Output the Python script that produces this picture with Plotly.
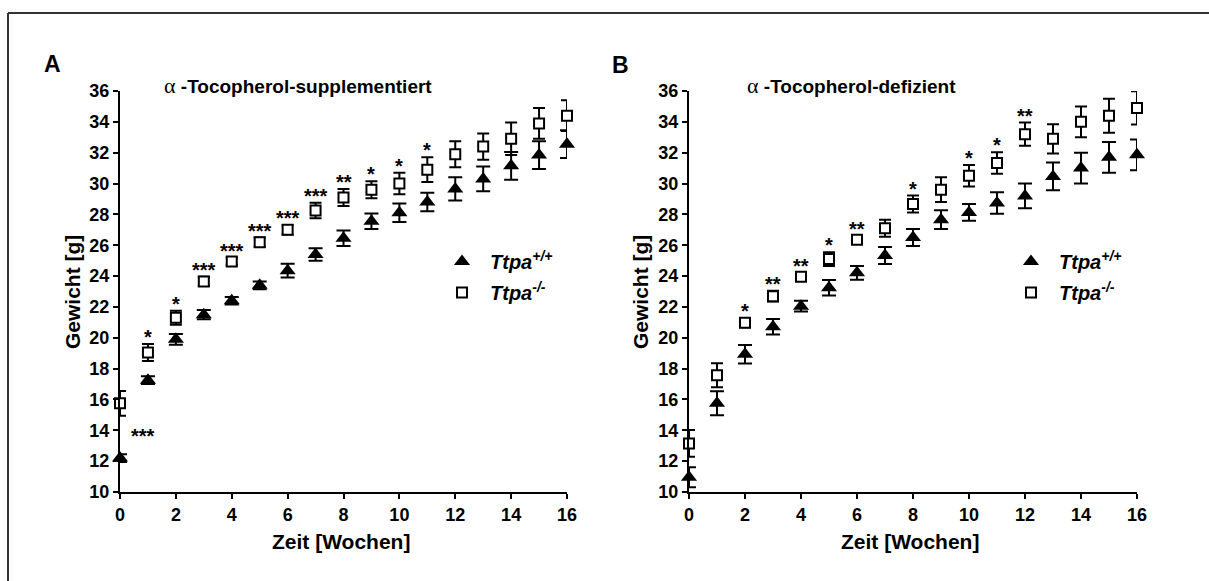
import plotly.graph_objects as go

W, H = 1209, 581
FONT = "Liberation Sans, Arial, sans-serif"

weeks = list(range(17))
x_ticks = list(range(0, 17, 2))
y_ticks = list(range(10, 37, 2))

# α-Tocopherol-supplemented diet: body weight [g], mean ± SEM
sup_wt_mean = [12.2, 17.25, 19.9, 21.5, 22.4, 23.4, 24.35, 25.4, 26.45, 27.55,
               28.1, 28.8, 29.65, 30.3, 31.15, 31.85, 32.55]
sup_wt_sem = [0.25, 0.25, 0.35, 0.3, 0.25, 0.25, 0.45, 0.4, 0.5, 0.5,
              0.6, 0.6, 0.75, 0.8, 0.9, 0.9, 0.9]
sup_ko_mean = [15.75, 19.05, 21.3, 23.65, 24.95, 26.2, 27.0, 28.25, 29.1, 29.6,
               30.0, 30.9, 31.9, 32.4, 32.9, 33.9, 34.4]
sup_ko_sem = [0.8, 0.55, 0.45, 0.3, 0.25, 0.3, 0.3, 0.5, 0.55, 0.55,
              0.7, 0.8, 0.85, 0.85, 1.05, 1.0, 1.0]
sup_stars = ["***", "*", "*", "***", "***", "***", "***", "***", "**", "*",
             "*", "*", "", "", "", "", ""]

# α-Tocopherol-deficient diet
def_wt_mean = [10.95, 15.75, 18.93, 20.72, 22.05, 23.24, 24.21, 25.33, 26.5, 27.66,
               28.13, 28.74, 29.2, 30.46, 31.0, 31.7, 31.86]
def_wt_sem = [0.65, 0.78, 0.6, 0.5, 0.35, 0.5, 0.45, 0.55, 0.55, 0.6,
              0.55, 0.7, 0.8, 0.9, 1.0, 1.0, 1.0]
def_ko_mean = [13.15, 17.57, 20.98, 22.7, 23.95, 25.1, 26.36, 27.1, 28.67, 29.6,
               30.5, 31.33, 33.2, 32.9, 34.0, 34.4, 34.9]
def_ko_sem = [0.87, 0.78, 0.3, 0.35, 0.25, 0.45, 0.25, 0.55, 0.55, 0.8,
              0.7, 0.7, 0.75, 0.95, 1.0, 1.1, 1.08]
def_stars = ["", "", "*", "**", "**", "*", "**", "", "*", "",
             "*", "*", "**", "", "", "", ""]

# legend font is already bold italic
name_wt = "Ttpa<sup>+/+</sup>"
name_ko = "Ttpa<sup>-/-</sup>"


def px(x):
    return x / W


def py(y):
    return 1 - y / H


fig = go.Figure()

panels = [
    ("x", "y", "legend", sup_wt_mean, sup_wt_sem, sup_ko_mean, sup_ko_sem),
    ("x2", "y2", "legend2", def_wt_mean, def_wt_sem, def_ko_mean, def_ko_sem),
]
for xa, ya, leg, wt_m, wt_s, ko_m, ko_s in panels:
    fig.add_trace(go.Scatter(
        x=weeks, y=wt_m, xaxis=xa, yaxis=ya, mode="markers", name=name_wt,
        legend=leg, legendgroup=leg + "wt", cliponaxis=False,
        marker=dict(symbol="triangle-up", size=14, color="black"),
        error_y=dict(type="data", array=wt_s, color="black", thickness=2, width=7),
    ))
    fig.add_trace(go.Scatter(
        x=weeks, y=ko_m, xaxis=xa, yaxis=ya, mode="markers", name=name_ko,
        legend=leg, legendgroup=leg + "ko", cliponaxis=False,
        marker=dict(symbol="square", size=10, color="white",
                    line=dict(color="black", width=2)),
        error_y=dict(type="data", array=ko_s, color="black", thickness=2, width=6),
    ))

axis_common = dict(
    showline=True, linecolor="black", linewidth=2, ticks="outside", ticklen=5,
    tickwidth=2, tickcolor="black", showgrid=False, zeroline=False,
    automargin=False,
    tickfont=dict(family=FONT, size=18, color="black", weight="bold"),
)
legend_common = dict(
    xanchor="left", yanchor="top", itemwidth=46, tracegroupgap=2,
    bgcolor="rgba(0,0,0,0)",
    font=dict(family=FONT, size=20, weight="bold", style="italic", color="black"),
)
fig.update_layout(
    width=W, height=H, margin=dict(l=0, r=0, t=0, b=0, autoexpand=False),
    paper_bgcolor="white", plot_bgcolor="white",
    font=dict(family=FONT, color="black"),
    xaxis=dict(domain=[px(120), px(567)], range=[0, 16], tickvals=x_ticks,
               anchor="y", **axis_common),
    yaxis=dict(domain=[py(492), py(91)], range=[10, 36], tickvals=y_ticks,
               anchor="x", **axis_common),
    xaxis2=dict(domain=[px(689), px(1137)], range=[0, 16], tickvals=x_ticks,
                anchor="y2", **axis_common),
    yaxis2=dict(domain=[py(492), py(91)], range=[10, 36], tickvals=y_ticks,
                anchor="x2", **axis_common),
    legend=dict(x=px(434), y=py(242), **legend_common),
    legend2=dict(x=px(1003), y=py(242), **legend_common),
    showlegend=True,
)

# significance marks above the Ttpa-/- points
star_font = dict(family=FONT, size=20, color="black", weight="bold")
for xa, ya, ko_m, ko_s, stars in [("x", "y", sup_ko_mean, sup_ko_sem, sup_stars),
                                   ("x2", "y2", def_ko_mean, def_ko_sem, def_stars)]:
    for w, m, s, lab in zip(weeks, ko_m, ko_s, stars):
        if not lab:
            continue
        if w == 0:
            # first time point: mark sits below-right of the pair
            fig.add_annotation(x=w, y=m - s - 1.0, xref=xa, yref=ya, text=lab,
                               showarrow=False, font=star_font, xshift=23,
                               yshift=-5, yanchor="middle")
        else:
            fig.add_annotation(x=w, y=m + s + 0.77, xref=xa, yref=ya, text=lab,
                               showarrow=False, font=star_font,
                               yshift=-5, yanchor="middle")

alpha = ("<span style=\"font-family:'Liberation Serif',serif;font-weight:normal;"
         "font-size:22px\">α</span>")
text_annots = [
    ("A", 52, 64, 23, 0),
    ("B", 620, 65, 23, 0),
    (alpha + " -Tocopherol-supplementiert", 298, 86, 19, 0),
    (alpha + " -Tocopherol-defizient", 851, 85, 19, 0),
    ("Zeit [Wochen]", 341, 541, 21, 0),
    ("Zeit [Wochen]", 910, 541, 21, 0),
    ("Gewicht [g]", 72, 292, 21, -90),
    ("Gewicht [g]", 640, 292, 21, -90),
]
for txt, x, y, size, ang in text_annots:
    fig.add_annotation(x=px(x), y=py(y), xref="paper", yref="paper", text=txt,
                       showarrow=False, textangle=ang, xanchor="center",
                       yanchor="middle",
                       font=dict(family=FONT, size=size, color="black", weight="bold"))

# outer frame (top and left edges)
fig.add_shape(type="line", xref="paper", yref="paper", x0=px(8), y0=py(13),
              x1=1, y1=py(13), line=dict(color="#333333", width=2))
fig.add_shape(type="line", xref="paper", yref="paper", x0=px(8), y0=py(13),
              x1=px(8), y1=0, line=dict(color="#333333", width=2))

fig.write_html("out.html",
               post_script="document.body.style.margin='0';"
                           "document.body.style.overflow='hidden';")
